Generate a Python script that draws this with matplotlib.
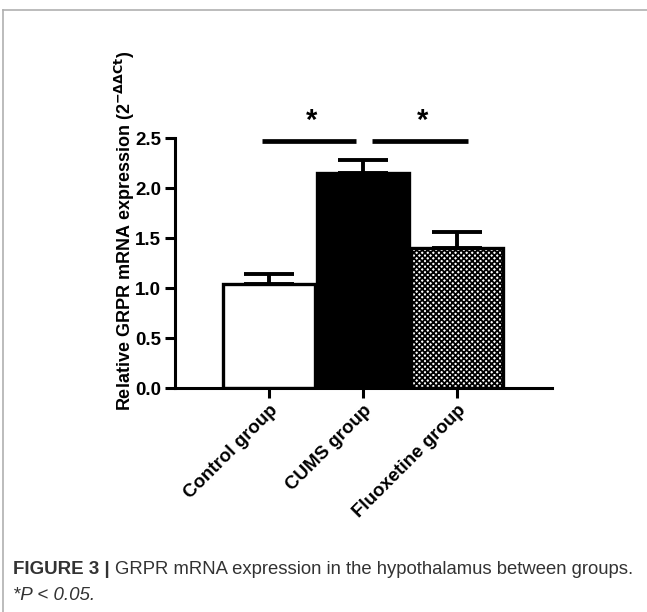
import matplotlib.pyplot as plt
from matplotlib.lines import Line2D

plt.rcParams['font.family'] = ['Liberation Sans', 'DejaVu Sans']
plt.rcParams['hatch.linewidth'] = 1.3

groups = ['Control group', 'CUMS group', 'Fluoxetine group']
means = [1.04, 2.15, 1.40]
sem = [0.10, 0.13, 0.16]
yticks = [0.0, 0.5, 1.0, 1.5, 2.0, 2.5]
# significance brackets: (x start, x end, y)
sig = [(-0.07, 0.93, 2.47), (1.10, 2.12, 2.47)]

fig = plt.figure(figsize=(6.47, 6.12), dpi=100)
ax = fig.add_axes([0.2705, 0.366, 0.5827, 0.4085])

x = range(len(groups))
faces = ['white', 'black', 'white']
hatches = [None, None, 'xxxxxx']
for i in x:
    ax.bar(i, means[i], width=0.98, color=faces[i], edgecolor='black',
           linewidth=2.4, hatch=hatches[i], zorder=2)
ax.errorbar(list(x), means, yerr=[[0]*3, sem], fmt='none', ecolor='black',
            elinewidth=2.8, capsize=18, capthick=2.8, zorder=3)

for x0, x1, y in sig:
    ax.plot([x0, x1], [y, y], color='black', lw=3.4, clip_on=False,
            solid_capstyle='butt')
    ax.text((x0 + x1) / 2 + 0.02, y + 0.06, '*', ha='center', va='bottom',
            fontsize=21, fontweight='bold')

ax.set_xlim(-1.0, 3.01)
ax.set_ylim(0, 2.5)
ax.set_yticks(yticks)
ax.set_yticklabels(['%.1f' % t for t in yticks], fontsize=13.5, fontweight='bold')
ax.set_xticks(list(x))
ax.set_xticklabels(groups, rotation=45, ha='right', rotation_mode='anchor',
                   fontsize=13.5, fontweight='bold')
ax.spines['top'].set_visible(False)
ax.spines['right'].set_visible(False)
for s in ['left', 'bottom']:
    ax.spines[s].set_linewidth(2.2)
ax.tick_params(axis='both', width=2.2, length=7, pad=3)
ax.set_ylabel(r'Relative GRPR mRNA expression (2$^{\mathbf{-\Delta\Delta Ct}}$)',
              fontsize=13, fontweight='bold')
ax.yaxis.set_label_coords(-0.10, 0.63)

# frame around the figure panel
fig.add_artist(Line2D([3/647, 1], [1 - 10/612, 1 - 10/612], color='#b0b0b0', lw=1.2))
fig.add_artist(Line2D([3/647, 3/647], [0, 1 - 10/612], color='#b0b0b0', lw=1.2))

cap_y = 1 - 570/612
t1 = fig.text(13/647, cap_y, 'FIGURE 3 | ', fontsize=13.5, fontweight='bold',
              color='#333333', va='center')
fig.canvas.draw()
bb = t1.get_window_extent()
fig.text(bb.x1 / fig.bbox.width, cap_y,
         'GRPR mRNA expression in the hypothalamus between groups.',
         fontsize=13.3, color='#333333', va='center')
fig.text(13/647, 1 - 596/612, '*P < 0.05.', fontsize=13.5, style='italic',
         color='#333333', va='center')

fig.savefig('out.png', dpi=100)
